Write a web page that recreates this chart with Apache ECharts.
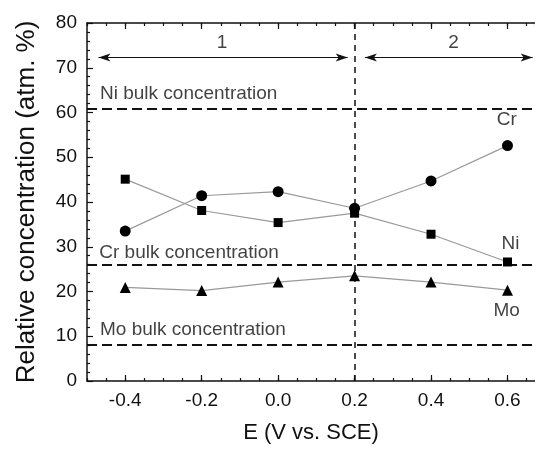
<!DOCTYPE html>
<html>
<head>
<meta charset="utf-8">
<script src="https://cdn.jsdelivr.net/npm/echarts@6/dist/echarts.min.js"></script>
<style>
  html, body { margin: 0; padding: 0; background: #fff; }
  #chart { width: 535px; height: 449px; }
</style>
</head>
<body>
<div id="chart"></div>
<script>
// potential (V vs. SCE)
const potentials = [-0.4, -0.2, 0.0, 0.2, 0.4, 0.6];
// relative concentration, atm. %
const crValues = [33.5, 41.4, 42.3, 38.6, 44.7, 52.6];
const niValues = [45.1, 38.1, 35.4, 37.5, 32.8, 26.6];
const moValues = [20.9, 20.2, 22.1, 23.5, 22.1, 20.3];

const bulkLevels = [60.8, 25.9, 8.0];
const bulkNames = ["Ni bulk concentration", "Cr bulk concentration", "Mo bulk concentration"];
const boundaryE = 0.2;

// regions 1 and 2 (double arrows)
const regionNames = ["1", "2"];
const regionRanges = [[-0.47, 0.182], [0.227, 0.666]];
const regionArrowY = 72.3;
const regionLabelX = [-0.147, 0.459];
const regionLabelY = 75.6;

// curve names near the last points
const curveNames = ["Cr", "Ni", "Mo"];
const curveNameX = [0.598, 0.608, 0.598];
const curveNameY = [58.3, 30.7, 15.8];
const bulkLabelX = [-0.466, -0.468, -0.466];
const bulkLabelY = [64.1, 28.7, 11.4];

const xTickLabels = [-0.4, -0.2, 0.0, 0.2, 0.4, 0.6];

const FONT = "Liberation Sans, Arial, Helvetica, sans-serif";
const INK = "#111";

const chart = echarts.init(document.getElementById("chart"));

const zip = (xs, ys) => xs.map((x, i) => [x, ys[i]]);

// x axes: minor ticks every 0.05, major ticks + labels at tick values
function xAxisPart(position, major, withLabels) {
  const ax = {
    type: "value",
    position: position,
    min: -0.5,
    max: 0.672,
    interval: 0.05,
    splitLine: { show: false },
    axisLine: { show: !major, onZero: false, lineStyle: { color: INK, width: 1.5 } },
    axisTick: { show: true, inside: true, length: major ? 6 : 3, lineStyle: { color: INK, width: 1.2 } },
    axisLabel: { show: false }
  };
  if (major) ax.axisTick.customValues = xTickLabels;
  if (withLabels) {
    ax.axisLabel = {
      show: true,
      customValues: xTickLabels,
      formatter: v => v.toFixed(1),
      fontFamily: FONT, fontSize: 19, color: INK, margin: 10
    };
    ax.name = "E (V vs. SCE)";
    ax.nameLocation = "middle";
    ax.nameGap = 41;
    ax.nameTextStyle = { fontFamily: FONT, fontSize: 22, color: INK };
  }
  return ax;
}

const lineSeries = (name, values, symbol, size) => ({
  name: name,
  type: "line",
  data: zip(potentials, values),
  symbol: symbol,
  symbolSize: size,
  itemStyle: { color: "#000" },
  lineStyle: { color: "#999", width: 1.2 },
  z: 5
});

const guideLines = bulkLevels.map(v => ({
  yAxis: v,
  lineStyle: { type: [10, 5], width: 2, color: INK }
}));
guideLines.push({
  xAxis: boundaryE,
  lineStyle: { type: [6, 5], width: 1.5, color: INK }
});
regionRanges.forEach(r => {
  guideLines.push([
    { coord: [r[0], regionArrowY], symbol: "arrow", lineStyle: { type: "solid", width: 1.2, color: INK } },
    { coord: [r[1], regionArrowY], symbol: "arrow" }
  ]);
});

const option = {
  animation: false,
  backgroundColor: "#fff",
  grid: { left: 87, top: 23, width: 448, height: 365 },
  xAxis: [
    xAxisPart("bottom", false, true),
    xAxisPart("bottom", true, false),
    xAxisPart("top", false, false),
    xAxisPart("top", true, false)
  ],
  yAxis: {
    type: "value",
    min: 0,
    max: 80,
    interval: 10,
    splitLine: { show: false },
    axisLine: { show: true, onZero: false, lineStyle: { color: INK, width: 1.5 } },
    axisTick: { show: true, inside: true, length: 6, lineStyle: { color: INK, width: 1.2 } },
    minorTick: { show: true, splitNumber: 5, length: 3, lineStyle: { color: INK, width: 1.2 } },
    axisLabel: { fontFamily: FONT, fontSize: 19, color: INK, margin: 10 },
    name: "Relative concentration (atm. %)",
    nameLocation: "middle",
    nameGap: 47,
    nameTextStyle: { fontFamily: FONT, fontSize: 26, color: INK }
  },
  series: [
    lineSeries("Ni", niValues, "rect", 9),
    lineSeries("Cr", crValues, "circle", 11),
    Object.assign(lineSeries("Mo", moValues, "triangle", 11), {
      markLine: {
        silent: true,
        symbol: "none",
        symbolSize: [6, 12],
        label: { show: false },
        data: guideLines
      }
    }),
    {
      name: "bulkNotes",
      type: "scatter",
      symbolSize: 0,
      silent: true,
      data: bulkNames.map((n, i) => [bulkLabelX[i], bulkLabelY[i], n]),
      label: {
        show: true, position: "right", distance: 0,
        formatter: p => p.value[2],
        fontFamily: FONT, fontSize: 19, color: INK
      }
    },
    {
      name: "notes",
      type: "scatter",
      symbolSize: 0,
      silent: true,
      data: regionNames.map((n, i) => [regionLabelX[i], regionLabelY, n])
        .concat(curveNames.map((n, i) => [curveNameX[i], curveNameY[i], n])),
      label: {
        show: true, position: "inside",
        formatter: p => p.value[2],
        fontFamily: FONT, fontSize: 19, color: INK
      }
    }
  ]
};

chart.setOption(option);
</script>
</body>
</html>
